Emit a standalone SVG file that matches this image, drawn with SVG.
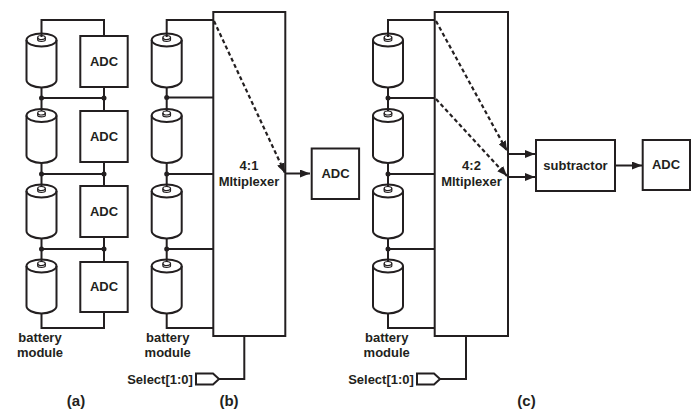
<svg xmlns="http://www.w3.org/2000/svg" width="696" height="409" viewBox="0 0 696 409">
<style>
text{font-family:"Liberation Sans",Arial,sans-serif;font-weight:bold;font-size:13px;fill:#231f20;text-anchor:middle}
.b{fill:none;stroke:#231f20;stroke-width:2}
.t{fill:none;stroke:#231f20;stroke-width:1.2}
.w{fill:none;stroke:#231f20;stroke-width:2}
.d{fill:none;stroke:#231f20;stroke-width:2.200;stroke-dasharray:4 2.800}
.box{fill:#fff;stroke:#231f20;stroke-width:2}
.dot{fill:#231f20}
.lab{font-size:15px}
</style>
<defs>
<g id="cell">
<path class="b" d="M-15 7V47C-15 51 -8 54.500 0 54.500S15 51 15 47V7"/>
<ellipse class="b" cx="0" cy="7" rx="15" ry="6.500"/>
<ellipse class="t" cx="0" cy="4.500" rx="3.800" ry="2"/>
<path class="t" d="M-3.800 4.500V7C-3.800 8.800 3.800 8.800 3.800 7V4.500"/>
</g>
<marker id="ah" markerUnits="userSpaceOnUse" markerWidth="10" markerHeight="8" refX="10" refY="4" orient="auto"><path d="M0 0L10 4L0 8Z" fill="#231f20"/></marker>
</defs>
<g id="connectors">
<path class="w" d="M41.500 37V20H104V36M41.500 88V111M104 87V111M41.500 98H104M41.500 163V187M104 162V186M41.500 174H104M41.500 238V262M104 237V262M41.500 249H104M41.500 313V328H104V312"/>
<circle class="dot" cx="41.500" cy="98" r="2.500"/><circle class="dot" cx="104" cy="98" r="2.500"/>
<circle class="dot" cx="41.500" cy="174" r="2.500"/><circle class="dot" cx="104" cy="174" r="2.500"/>
<circle class="dot" cx="41.500" cy="249" r="2.500"/><circle class="dot" cx="104" cy="249" r="2.500"/>
<path class="w" d="M166.700 37V20H213M166.700 88V111M166.700 97.500H213M166.700 163V187M166.700 174H213M166.700 238V262M166.700 249H213M166.700 313V328H213"/>
<circle class="dot" cx="166.700" cy="97.500" r="2.500"/><circle class="dot" cx="166.700" cy="174" r="2.500"/><circle class="dot" cx="166.700" cy="249" r="2.500"/>
<path class="w" d="M388 37V20H435M388 88V111M388 98H435M388 163V187M388 174H435M388 238V262M388 249H435M388 313V328H435"/>
<circle class="dot" cx="388" cy="98" r="2.500"/><circle class="dot" cx="388" cy="174" r="2.500"/><circle class="dot" cx="388" cy="249" r="2.500"/>
<path class="w" d="M219 379H244.300V336M440 379H466V336"/>
</g>
<g id="mux-b"><rect class="box" x="213.300" y="12" width="72" height="324"/><text x="249" y="170">4:1</text><text x="249" y="186">Mltiplexer</text></g>
<g id="mux-c"><rect class="box" x="434.700" y="12" width="73.300" height="324"/><text x="471.500" y="170">4:2</text><text x="471.500" y="186">Mltiplexer</text></g>
<g id="connectors-over">
<path class="d" d="M214 21L285 173" marker-end="url(#ah)"/>
<path class="d" d="M436 21L507 151" marker-end="url(#ah)"/>
<path class="d" d="M436 99L507 176" marker-end="url(#ah)"/>
<path class="w" d="M285.300 173.500H310" marker-end="url(#ah)"/>
<path class="w" d="M508 154H535" marker-end="url(#ah)"/>
<path class="w" d="M508 177H535" marker-end="url(#ah)"/>
<path class="w" d="M615 165.500H642" marker-end="url(#ah)"/>
</g>
<g id="cells-a"><use href="#cell" x="41.500" y="33"/><use href="#cell" x="41.500" y="108.500"/><use href="#cell" x="41.500" y="184"/><use href="#cell" x="41.500" y="259"/></g>
<g id="cells-b"><use href="#cell" x="166.700" y="33"/><use href="#cell" x="166.700" y="108.500"/><use href="#cell" x="166.700" y="184"/><use href="#cell" x="166.700" y="259"/></g>
<g id="cells-c"><use href="#cell" x="388" y="33"/><use href="#cell" x="388" y="108.500"/><use href="#cell" x="388" y="184"/><use href="#cell" x="388" y="259"/></g>
<g id="adc-a1"><rect class="box" x="80.300" y="36" width="47.400" height="51"/><text x="104" y="66">ADC</text></g>
<g id="adc-a2"><rect class="box" x="80.300" y="111" width="47.400" height="51"/><text x="104" y="141">ADC</text></g>
<g id="adc-a3"><rect class="box" x="80.300" y="186" width="47.400" height="51"/><text x="104" y="216">ADC</text></g>
<g id="adc-a4"><rect class="box" x="80.300" y="262" width="47.400" height="50"/><text x="104" y="291">ADC</text></g>
<g id="adc-b"><rect class="box" x="311.700" y="148.500" width="47.400" height="50.500"/><text x="335.500" y="178">ADC</text></g>
<g id="subtractor"><rect class="box" x="536" y="140" width="79" height="51"/><text x="575.500" y="170">subtractor</text></g>
<g id="adc-c"><rect class="box" x="642.700" y="140" width="47.300" height="50"/><text x="666" y="169">ADC</text></g>
<g id="tag-b"><path class="b" d="M196 373.500H213L219 379L213 384.500H196Z"/><text x="160" y="383.500">Select[1:0]</text></g>
<g id="tag-c"><path class="b" d="M417 373.500H434L440 379L434 384.500H417Z"/><text x="381" y="383.500">Select[1:0]</text></g>
<g id="labels">
<text x="40" y="341.500">battery</text><text x="40" y="357">module</text>
<text x="167.700" y="341.500">battery</text><text x="167.700" y="357">module</text>
<text x="386.700" y="341.500">battery</text><text x="386.700" y="357">module</text>
<text class="lab" x="76" y="406">(a)</text>
<text class="lab" x="229" y="406">(b)</text>
<text class="lab" x="526.500" y="406">(c)</text>
</g>
</svg>
